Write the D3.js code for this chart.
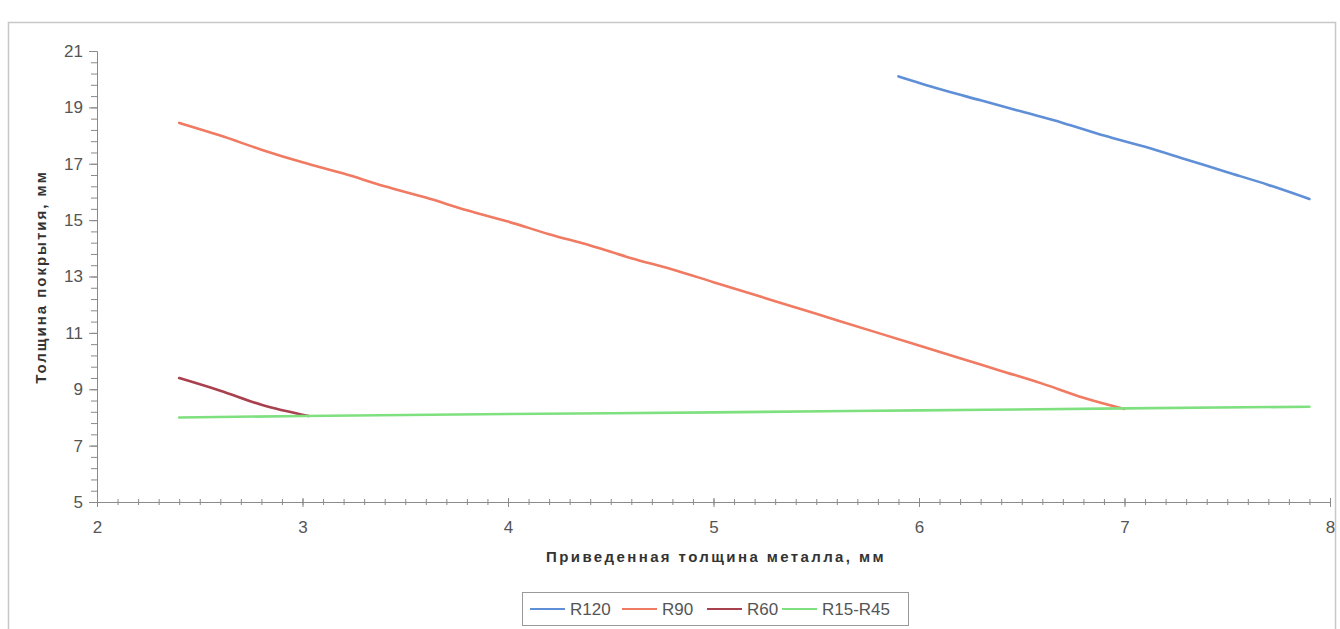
<!DOCTYPE html>
<html>
<head>
<meta charset="utf-8">
<script src="https://cdn.jsdelivr.net/npm/d3@7.9.0/dist/d3.min.js"></script>
<style>
  body { margin: 0; background: #fff; }
  svg { display: block; }
</style>
</head>
<body>
<svg id="chart" width="1340" height="629"></svg>
<script>
// series data (x = приведенная толщина, y = толщина покрытия)
const r120 = [
  [5.9, 20.1], [6.1, 19.65], [6.3, 19.25], [6.5, 18.85], [6.7, 18.45],
  [6.9, 18.0], [7.1, 17.6], [7.3, 17.15], [7.5, 16.7], [7.7, 16.25], [7.9, 15.75]
];
const r90 = [
  [2.4, 18.45], [2.6, 18.0], [2.8, 17.5], [3.0, 17.05], [3.2, 16.65], [3.4, 16.2],
  [3.6, 15.8], [3.8, 15.35], [4.0, 14.95], [4.2, 14.5], [4.4, 14.1], [4.6, 13.65],
  [4.8, 13.25], [5.0, 12.8], [5.2, 12.35], [5.4, 11.9], [5.6, 11.45], [5.8, 11.0],
  [6.0, 10.55], [6.2, 10.1], [6.4, 9.65], [6.6, 9.2], [6.8, 8.7], [7.0, 8.3]
];
const r60 = [[2.4, 9.4], [2.6, 8.95], [2.8, 8.45], [3.03, 8.05]];
const r15r45 = [[2.4, 8.0], [3.0, 8.05], [4.0, 8.12], [5.0, 8.18], [6.0, 8.25], [7.0, 8.32], [7.9, 8.38]];

const seriesNames = ["R120", "R90", "R60", "R15-R45"];
const seriesData = [r120, r90, r60, r15r45];
const seriesColors = ["#5f8fd6", "#f07a62", "#a8404e", "#7fe07f"];

const yTicks = [5, 7, 9, 11, 13, 15, 17, 19, 21];
const xTicks = [2, 3, 4, 5, 6, 7, 8];

const svg = d3.select("#chart");
const margin = { left: 97, right: 10, top: 51, bottom: 127 };

const x = d3.scaleLinear().domain([2, 8]).range([margin.left, 1330]);
const y = d3.scaleLinear().domain([5, 21]).range([502, margin.top]);

// chart area border
svg.append("rect")
  .attr("x", 8.5).attr("y", 22.5).attr("width", 1327).attr("height", 640)
  .attr("fill", "none").attr("stroke", "#c8c8c8").attr("stroke-width", 1.5);

const axisColor = "#8a8a8a";
const labelColor = "#555";

// y axis
const gy = svg.append("g").attr("transform", `translate(${margin.left},0)`);
gy.call(d3.axisLeft(y).tickValues(d3.range(5, 21.01, 0.4)).tickSize(6).tickFormat(""))
  .call(g => g.selectAll("line").attr("stroke", axisColor))
  .call(g => g.select(".domain").attr("stroke", axisColor));
gy.append("g").call(d3.axisLeft(y).tickValues(yTicks).tickSize(8).tickPadding(6).tickFormat(d3.format("d")))
  .call(g => g.select(".domain").remove())
  .call(g => g.selectAll("line").attr("stroke", axisColor))
  .call(g => g.selectAll("text").attr("fill", labelColor)
    .style("font-family", "Liberation Sans, Arial, sans-serif").style("font-size", "17px"));

// x axis
const gx = svg.append("g").attr("transform", `translate(0,${y(5)})`);
gx.call(d3.axisBottom(x).tickValues(d3.range(2, 8.001, 0.1)).tickSizeInner(3).tickSizeOuter(0).tickFormat(""))
  .call(g => g.selectAll(".tick line").attr("y1", -3).attr("stroke", axisColor))
  .call(g => g.select(".domain").attr("stroke", axisColor));
gx.append("g").call(d3.axisBottom(x).tickValues(xTicks).tickSize(5).tickPadding(14).tickFormat(d3.format("d")))
  .call(g => g.select(".domain").remove())
  .call(g => g.selectAll("line").attr("y1", -4).attr("stroke", axisColor))
  .call(g => g.selectAll("text").attr("fill", labelColor)
    .style("font-family", "Liberation Sans, Arial, sans-serif").style("font-size", "17px"));

// axis titles
svg.append("text")
  .attr("transform", `translate(46,277) rotate(-90)`)
  .attr("text-anchor", "middle")
  .attr("fill", "#333")
  .style("font-family", "Liberation Sans, Arial, sans-serif")
  .style("font-size", "15px").style("font-weight", "bold").style("letter-spacing", "2px")
  .text("Толщина покрытия, мм");

svg.append("text")
  .attr("x", 716).attr("y", 562)
  .attr("text-anchor", "middle")
  .attr("fill", "#333")
  .style("font-family", "Liberation Sans, Arial, sans-serif")
  .style("font-size", "15px").style("font-weight", "bold").style("letter-spacing", "2.4px")
  .text("Приведенная толщина металла, мм");

// lines
const line = d3.line().x(d => x(d[0])).y(d => y(d[1])).curve(d3.curveMonotoneX);
svg.selectAll(".series")
  .data(seriesData)
  .join("path")
  .attr("class", "series")
  .attr("d", line)
  .attr("fill", "none")
  .attr("stroke", (d, i) => seriesColors[i])
  .attr("stroke-width", 2.6)
  .attr("stroke-linecap", "round");

// legend
const legend = svg.append("g");
legend.append("rect")
  .attr("x", 522.5).attr("y", 592.5).attr("width", 386).attr("height", 33)
  .attr("fill", "#fff").attr("stroke", "#999");
const legendX = [530, 622, 707, 782];
const item = legend.selectAll(".item")
  .data(seriesNames)
  .join("g")
  .attr("transform", (d, i) => `translate(${legendX[i]},609)`);
item.append("line")
  .attr("x1", 0).attr("x2", 35)
  .attr("stroke", (d, i) => seriesColors[i]).attr("stroke-width", 2);
item.append("text")
  .attr("x", 40).attr("y", 6)
  .attr("fill", labelColor)
  .style("font-family", "Liberation Sans, Arial, sans-serif").style("font-size", "17px")
  .text(d => d);
</script>
</body>
</html>
